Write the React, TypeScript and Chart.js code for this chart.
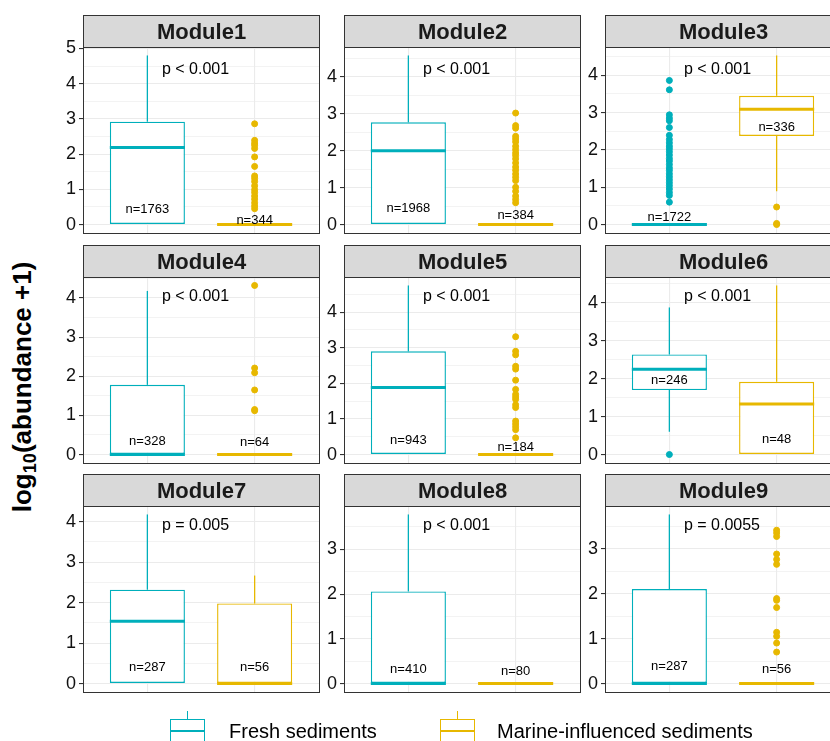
import React, { useEffect, useRef } from 'react';
import { Chart, registerables } from 'chart.js';

Chart.register(...registerables);

// ---------------- data ----------------
const modules = ['Module1', 'Module2', 'Module3', 'Module4', 'Module5', 'Module6', 'Module7', 'Module8', 'Module9'];
const groups = ['Fresh sediments', 'Marine-influenced sediments'];

// [q1, median, q3, lowerWhisker, upperWhisker]
const freshStats = [
  [0, 2.19, 2.92, 0, 4.8],
  [0, 2.0, 2.77, 0, 4.58],
  [0, 0, 0, 0, 0],
  [0, 0, 1.78, 0, 4.18],
  [0, 1.88, 2.9, 0, 4.75],
  [1.7, 2.25, 2.64, 0.6, 3.88],
  [0, 1.54, 2.32, 0, 4.18],
  [0, 0, 2.06, 0, 3.78],
  [0, 0, 2.1, 0, 3.76],
];
const marineStats = [
  [0, 0, 0, 0, 0],
  [0, 0, 0, 0, 0],
  [2.375, 3.09, 3.45, 0.89, 4.53],
  [0, 0, 0, 0, 0],
  [0, 0, 0, 0, 0],
  [0, 1.33, 1.92, 0, 4.46],
  [0, 0, 1.98, 0, 2.67],
  [0, 0, 0, 0, 0],
  [0, 0, 0, 0, 0],
];

const freshOutliers = [
  [],
  [],
  [3.86, 3.61, 2.94, 2.85, 2.78, 2.6, 2.39, 2.28, 2.19, 2.1, 2.03, 1.95, 1.86, 1.77, 1.7, 1.61, 1.52, 1.45, 1.36, 1.28, 1.2, 1.12, 1.04, 0.95, 0.86, 0.78, 0.6],
  [],
  [],
  [0],
  [],
  [],
  [],
];
const marineOutliers = [
  [2.86, 2.39, 2.31, 2.25, 2.16, 1.92, 1.65, 1.38, 1.31, 1.22, 1.1, 0.99, 0.91, 0.81, 0.72, 0.62, 0.53, 0.45],
  [3.02, 2.68, 2.61, 2.39, 2.32, 2.24, 2.12, 2.03, 1.94, 1.87, 1.78, 1.67, 1.56, 1.47, 1.37, 1.28, 1.19, 1.01, 0.9, 0.77, 0.68, 0.59],
  [0.47, 0, 0.03],
  [4.32, 2.21, 2.09, 1.65, 1.15, 1.12],
  [3.31, 2.9, 2.8, 2.48, 2.4, 2.09, 1.83, 1.69, 1.62, 1.55, 1.4, 1.32, 0.94, 0.86, 0.78, 0.7, 0.47],
  [],
  [],
  [],
  [3.41, 3.35, 3.27, 2.88, 2.76, 2.65, 1.89, 1.85, 1.69, 1.14, 1.05, 0.9, 0.7],
];

const pLabels = ['p < 0.001', 'p < 0.001', 'p < 0.001', 'p < 0.001', 'p < 0.001', 'p < 0.001', 'p = 0.005', 'p < 0.001', 'p = 0.0055'];
const pLabelY = [4.4, 4.2, 4.15, 4.03, 4.43, 4.17, 3.9, 3.52, 3.52];
const nFresh = [1763, 1968, 1722, 328, 943, 246, 287, 410, 287];
const nMarine = [344, 384, 336, 64, 184, 48, 56, 80, 56];
const nFreshY = [0.44, 0.45, 0.2, 0.34, 0.39, 1.95, 0.41, 0.31, 0.37];
const nMarineY = [0.13, 0.25, 2.61, 0.31, 0.21, 0.41, 0.41, 0.28, 0.31];

// ---------------- style / layout ----------------
const FRESH = '#00AFBB';
const MARINE = '#E7B800';
const FONT = '"Liberation Sans", Arial, Helvetica, sans-serif';
const BOX_WIDTH = 0.7;
const P_LABEL_X = 1.136;
const STRIP_H = 32;
const PANEL_W = 236;
const PANEL_H = 186;
const AXIS_W = 40;
const PAD_R = 2;
const PAD_B = 14;
const COL_LEFT = [83, 344, 605];
const ROW_TOP = [15, 245, 474];

function Panel({ idx }: { idx: number }) {
  const ref = useRef<HTMLCanvasElement>(null);
  useEffect(() => {
    const fs = freshStats[idx];
    const ms = marineStats[idx];
    const fo = freshOutliers[idx];
    const mo = marineOutliers[idx];
    const dMax = Math.max(fs[4], ms[4], ...fo, ...mo);
    const dMin = Math.min(fs[3], ms[3], fs[0], ms[0], ...fo, ...mo);
    const ex = (dMax - dMin) * 0.05;
    const yMin = dMin - ex;
    const yMax = dMax + ex;
    const half = BOX_WIDTH / 2;

    const facetPlugin = {
      id: 'facet',
      afterDatasetsDraw(chart: any) {
        const { ctx, chartArea: a, scales } = chart;
        const x = scales.x;
        const y = scales.y;
        ctx.save();
        ctx.fillStyle = '#000';
        ctx.font = `16px ${FONT}`;
        ctx.textAlign = 'left';
        ctx.textBaseline = 'middle';
        ctx.fillText(pLabels[idx], x.getPixelForValue(P_LABEL_X), y.getPixelForValue(pLabelY[idx]));
        ctx.font = `13px ${FONT}`;
        ctx.textAlign = 'center';
        ctx.fillText('n=' + nFresh[idx], x.getPixelForValue(1), y.getPixelForValue(nFreshY[idx]));
        ctx.fillText('n=' + nMarine[idx], x.getPixelForValue(2), y.getPixelForValue(nMarineY[idx]));

        const l = Math.round(a.left) + 0.5;
        const t = Math.round(a.top) + 0.5;
        const w = Math.round(a.right - a.left);
        const h = Math.round(a.bottom - a.top);
        ctx.strokeStyle = '#333333';
        ctx.lineWidth = 1;
        ctx.strokeRect(l, t, w, h);
        ctx.fillStyle = '#D9D9D9';
        ctx.fillRect(l, t - STRIP_H, w, STRIP_H);
        ctx.strokeRect(l, t - STRIP_H, w, STRIP_H);
        ctx.fillStyle = '#1A1A1A';
        ctx.font = `bold 22px ${FONT}`;
        ctx.textAlign = 'center';
        ctx.textBaseline = 'middle';
        ctx.fillText(modules[idx], l + w / 2, t - STRIP_H / 2 + 1);
        ctx.restore();
      },
    };

    const line = (pts: { x: number; y: number }[], color: string, width: number, order: number) => ({
      type: 'line' as const,
      data: pts,
      borderColor: color,
      borderWidth: width,
      pointRadius: 0,
      fill: false,
      order,
    });

    const chart = new Chart(ref.current as HTMLCanvasElement, {
      type: 'bar',
      data: {
        datasets: [
          {
            type: 'bar',
            label: 'box',
            data: [
              { x: 1, y: [fs[0], fs[2]] },
              { x: 2, y: [ms[0], ms[2]] },
            ] as any,
            backgroundColor: '#FFFFFF',
            borderColor: [FRESH, MARINE],
            borderWidth: 1.4,
            borderSkipped: false,
            barPercentage: BOX_WIDTH,
            categoryPercentage: 1,
            order: 5,
          },
          line([{ x: 1, y: fs[2] }, { x: 1, y: fs[4] }], FRESH, 1.3, 4),
          line([{ x: 1, y: fs[0] }, { x: 1, y: fs[3] }], FRESH, 1.3, 4),
          line([{ x: 2, y: ms[2] }, { x: 2, y: ms[4] }], MARINE, 1.3, 4),
          line([{ x: 2, y: ms[0] }, { x: 2, y: ms[3] }], MARINE, 1.3, 4),
          line([{ x: 1 - half, y: fs[1] }, { x: 1 + half, y: fs[1] }], FRESH, 3, 3),
          line([{ x: 2 - half, y: ms[1] }, { x: 2 + half, y: ms[1] }], MARINE, 3, 3),
          {
            type: 'scatter',
            data: fo.map((v) => ({ x: 1, y: v })),
            backgroundColor: FRESH,
            borderColor: FRESH,
            pointRadius: 3,
            borderWidth: 1,
            order: 1,
          },
          {
            type: 'scatter',
            data: mo.map((v) => ({ x: 2, y: v })),
            backgroundColor: MARINE,
            borderColor: MARINE,
            pointRadius: 3,
            borderWidth: 1,
            order: 1,
          },
        ] as any,
      },
      options: {
        animation: false,
        responsive: false,
        maintainAspectRatio: false,
        devicePixelRatio: 1,
        layout: { autoPadding: false, padding: { top: STRIP_H, left: 0, right: PAD_R, bottom: PAD_B } },
        plugins: { legend: { display: false }, tooltip: { enabled: false } },
        events: [],
        scales: {
          x: {
            type: 'linear',
            min: 0.4,
            max: 2.6,
            offset: false,
            border: { display: false },
            grid: { offset: false, color: '#EBEBEB', lineWidth: 1.1, drawTicks: false },
            ticks: { display: false },
            afterBuildTicks: (s: any) => {
              s.ticks = [{ value: 1 }, { value: 2 }];
            },
            afterFit: (s: any) => {
              s.height = 0;
            },
          },
          y: {
            type: 'linear',
            min: yMin,
            max: yMax,
            border: { display: false },
            grid: {
              color: '#EBEBEB',
              lineWidth: (c: any) => (Number.isInteger(c.tick?.value) ? 1.1 : 0.6),
              tickColor: (c: any) => (Number.isInteger(c.tick?.value) ? '#333333' : 'rgba(0,0,0,0)'),
              tickWidth: 1.1,
              tickLength: 4,
            },
            ticks: {
              autoSkip: false,
              padding: 3,
              color: '#111111',
              font: { size: 18, family: FONT },
              callback: (v: any) => (Number.isInteger(v) ? String(v) : ''),
            },
            afterBuildTicks: (s: any) => {
              const t: { value: number }[] = [];
              for (let v = 0; v <= yMax + 1e-9; v += 0.5) t.push({ value: v });
              s.ticks = t;
            },
            afterFit: (s: any) => {
              s.width = AXIS_W;
            },
          },
        },
      } as any,
      plugins: [facetPlugin],
    });
    return () => chart.destroy();
  }, [idx]);

  const col = idx % 3;
  const row = Math.floor(idx / 3);
  const w = AXIS_W + PANEL_W + PAD_R;
  const h = STRIP_H + PANEL_H + PAD_B;
  return (
    <canvas
      ref={ref}
      width={w}
      height={h}
      style={{ position: 'absolute', left: COL_LEFT[col] - AXIS_W, top: ROW_TOP[row], width: w, height: h }}
    />
  );
}

function LegendKey({ left, color, label, textLeft }: { left: number; color: string; label: string; textLeft: number }) {
  const KW = 35;
  return (
    <>
      <div style={{ position: 'absolute', left: left + KW / 2 - 0.75, top: 711, width: 1.5, height: 8, background: color }} />
      <div
        style={{
          position: 'absolute',
          left,
          top: 718.5,
          width: KW,
          height: 25,
          boxSizing: 'border-box',
          border: `1.5px solid ${color}`,
        }}
      />
      <div style={{ position: 'absolute', left, top: 730, width: KW, height: 1.5, background: color }} />
      <div
        style={{
          position: 'absolute',
          left: textLeft,
          top: 731,
          transform: 'translateY(-50%)',
          fontFamily: FONT,
          fontSize: 20,
          color: '#000',
          whiteSpace: 'nowrap',
          lineHeight: 1,
        }}
      >
        {label}
      </div>
    </>
  );
}

export default function App() {
  useEffect(() => {
    document.body.style.margin = '0';
  }, []);
  return (
    <div
      style={{
        position: 'absolute',
        left: 0,
        top: 0,
        width: 830,
        height: 741,
        overflow: 'hidden',
        background: '#FFFFFF',
      }}
    >
      {modules.map((m, i) => (
        <Panel key={m} idx={i} />
      ))}
      <div
        style={{
          position: 'absolute',
          left: 24,
          top: 387,
          transform: 'translate(-50%, -50%) rotate(-90deg)',
          fontFamily: FONT,
          fontWeight: 'bold',
          fontSize: 26,
          color: '#000',
          whiteSpace: 'nowrap',
          lineHeight: 1,
        }}
      >
        log<sub style={{ fontSize: '0.7em', verticalAlign: '-0.25em' }}>10</sub>(abundance +1)
      </div>
      <LegendKey left={170} color={FRESH} label={groups[0]} textLeft={229} />
      <LegendKey left={440} color={MARINE} label={groups[1]} textLeft={497} />
    </div>
  );
}
